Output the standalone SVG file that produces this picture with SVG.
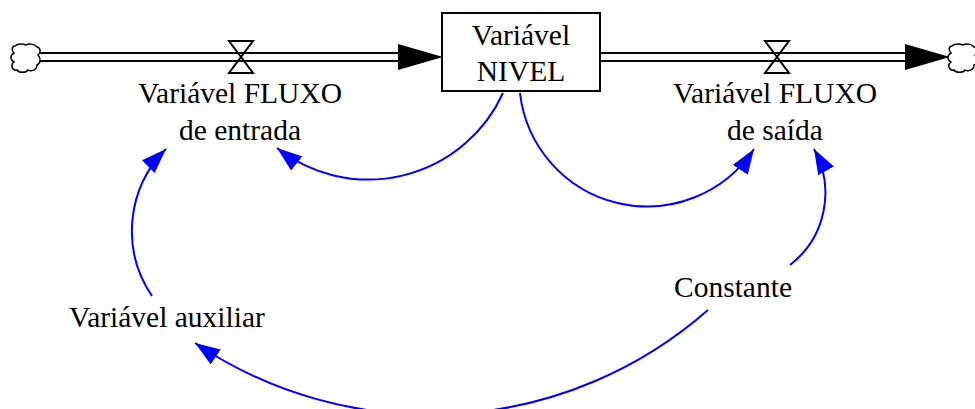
<svg xmlns="http://www.w3.org/2000/svg" width="975" height="409" viewBox="0 0 975 409">
<style>
  .lbl { font-family: "Liberation Serif", "Times New Roman", serif; font-size: 29.5px; fill: #000; text-anchor: middle; }
  .pipe { stroke: #000; stroke-width: 2; fill: none; }
  .link { stroke: #0000FF; stroke-width: 2; fill: none; marker-end: url(#blueArrow); }
  .cloud { fill: #fff; stroke: #000; stroke-width: 1.5; }
  .valve { fill: none; stroke: #000; stroke-width: 2; stroke-linejoin: miter; }
</style>
<defs>
  <marker id="blueArrow" viewBox="0 0 25 18" refX="25" refY="9" markerWidth="25" markerHeight="18" markerUnits="userSpaceOnUse" orient="auto">
    <path d="M0,0 L25,9 L0,18 Z" fill="#0000FF"/>
  </marker>
  <path id="cloudShape" d="M-11,-12 C-8,-15 -2,-14 0,-13 C3,-15 9,-14 11,-11 C15,-10 15,-5 12,-3 C15,0 15,5 11,7 C11,12 5,14 2,12 C0,15 -7,15 -9,12 C-14,13 -16,7 -12,4 C-16,2 -16,-3 -12,-5 C-15,-8 -14,-12 -11,-12 Z"/>
</defs>

<g id="flows">
  <g id="flow-in">
    <line class="pipe" x1="38" y1="53" x2="400" y2="53"/>
    <line class="pipe" x1="38" y1="61" x2="400" y2="61"/>
    <polygon points="398,44 443,57 398,70" fill="#000"/>
    <path class="valve" d="M229,41 L253,41 L229,73 L253,73 Z"/>
  </g>
  <g id="flow-out">
    <line class="pipe" x1="600" y1="53" x2="907" y2="53"/>
    <line class="pipe" x1="600" y1="61" x2="907" y2="61"/>
    <polygon points="905,44 950,57 905,70" fill="#000"/>
    <path class="valve" d="M765,41 L789,41 L765,73 L789,73 Z"/>
  </g>
</g>

<g id="cloud-source"><use href="#cloudShape" class="cloud" transform="translate(26,58)"/></g>
<g id="cloud-sink"><use href="#cloudShape" class="cloud" transform="translate(963,58)"/></g>

<g id="stock">
  <rect x="442" y="13" width="158" height="78" fill="#fff" stroke="#000" stroke-width="2"/>
  <text class="lbl" x="521" y="45">Variável</text>
  <text class="lbl" x="521" y="81">NIVEL</text>
</g>

<g id="flow-in-label">
  <text class="lbl" x="240" y="103">Variável FLUXO</text>
  <text class="lbl" x="240" y="140">de entrada</text>
</g>
<g id="flow-out-label">
  <text class="lbl" x="775" y="103">Variável FLUXO</text>
  <text class="lbl" x="775" y="140">de saída</text>
</g>
<g id="aux">
  <text class="lbl" x="167" y="327">Variável auxiliar</text>
</g>
<g id="const">
  <text class="lbl" x="733" y="297">Constante</text>
</g>

<g id="connectors">
  <path class="link" d="M503,93 A148,148 0 0,1 277,148"/>
  <path class="link" d="M520,93 A128,128 0 0,0 754,149"/>
  <path class="link" d="M790,265 A91,91 0 0,0 814,149"/>
  <path class="link" d="M152,296 A115.5,115.5 0 0,1 166,149"/>
  <path class="link" d="M708,310 A421,421 0 0,1 195,343"/>
</g>
</svg>
